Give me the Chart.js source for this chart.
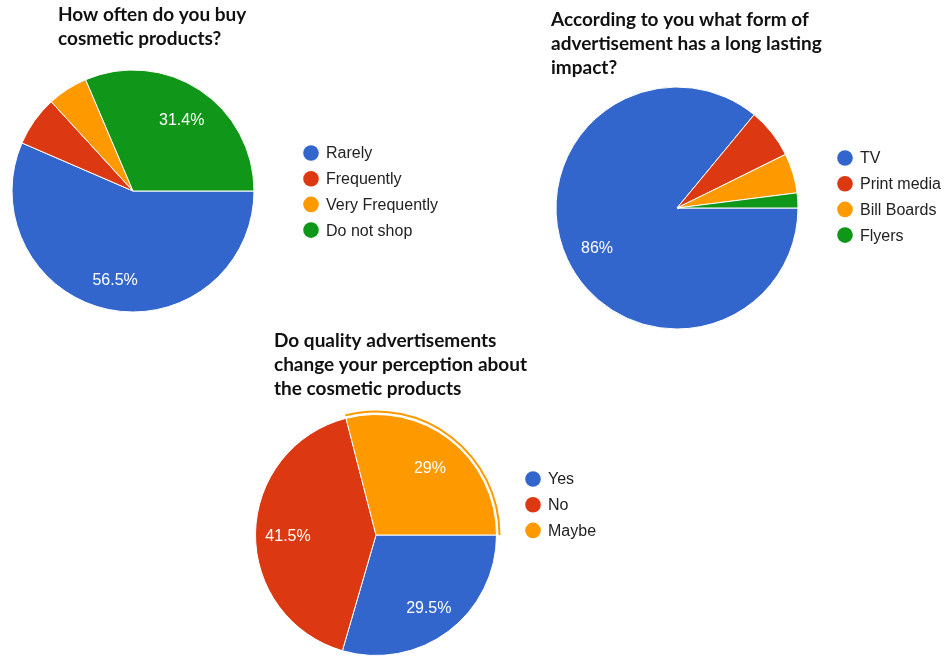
<!DOCTYPE html>
<html>
<head>
<meta charset="utf-8">
<title>Survey pie charts</title>
<script src="https://cdn.jsdelivr.net/npm/chart.js@4.4.0/dist/chart.umd.min.js"></script>
<style>
  body { margin: 0; background: #fff; }
  #wrap { position: relative; width: 950px; height: 658px; overflow: hidden; }
  #wrap canvas { position: absolute; left: 0; top: 0; }
</style>
</head>
<body>
<div id="wrap">
  <canvas id="buyChart" width="950" height="700"></canvas>
  <canvas id="adChart" width="950" height="700"></canvas>
  <canvas id="qualityChart" width="950" height="700"></canvas>
</div>
<script>
// data (percent of answers)
const buyTitle = ['How often do you buy', 'cosmetic products?'];
const buyLabels = ['Rarely', 'Frequently', 'Very Frequently', 'Do not shop'];
const buyValues = [56.5, 6.7, 5.4, 31.4];

const adTitle = ['According to you what form of', 'advertisement has a long lasting', 'impact?'];
const adLabels = ['TV', 'Print media', 'Bill Boards', 'Flyers'];
const adValues = [86, 6.7, 5.3, 2.0];

const qualityTitle = ['Do quality advertisements', 'change your perception about', 'the cosmetic products'];
const qualityLabels = ['Yes', 'No', 'Maybe'];
const qualityValues = [29.5, 41.5, 29];

const sliceColors = ['#3366cc', '#dc3912', '#ff9900', '#109618'];
const CANVAS_W = 950, CANVAS_H = 700;

// chart area so the pie of radius r sits at (cx, cy); +1 for the border spacing
function padFor(cx, cy, r) {
  const half = r + 0.5;
  return { left: cx - half, top: cy - half, right: CANVAS_W - (cx + half), bottom: CANVAS_H - (cy + half) };
}

function fmtPct(v) {
  return v + '%';
}

// title, in-slice percentages and legend, drawn on the chart canvas
const surveyDecor = {
  id: 'surveyDecor',
  afterDatasetsDraw(chart, args, opts) {
    const ctx = chart.ctx;
    const dsIndex = opts.dataset || 0;
    const ds = chart.data.datasets[dsIndex];
    const meta = chart.getDatasetMeta(dsIndex);
    ctx.save();

    ctx.fillStyle = '#fff';
    ctx.font = '16px "Liberation Sans", Arial, sans-serif';
    ctx.textAlign = 'center';
    ctx.textBaseline = 'middle';
    meta.data.forEach((arc, i) => {
      if (ds.data[i] < 10) return;
      const p = arc.getProps(['x', 'y', 'startAngle', 'endAngle', 'outerRadius'], true);
      const mid = (p.startAngle + p.endAngle) / 2;
      const d = p.outerRadius * 0.73;
      ctx.fillText(fmtPct(ds.data[i]), p.x + Math.cos(mid) * d, p.y + Math.sin(mid) * d + 3);
    });

    ctx.fillStyle = '#111';
    ctx.font = 'bold 19px Lato, sans-serif';
    ctx.textAlign = 'left';
    ctx.textBaseline = 'alphabetic';
    opts.title.forEach((line, i) => {
      ctx.fillText(line, opts.titleX, opts.titleY + i * 24);
    });

    ctx.font = '16px "Liberation Sans", Arial, sans-serif';
    ctx.textBaseline = 'middle';
    chart.data.labels.forEach((lab, i) => {
      const y = opts.legendY + i * 25.7;
      ctx.fillStyle = ds.backgroundColor[i];
      ctx.beginPath();
      ctx.arc(opts.legendX, y, 7.8, 0, Math.PI * 2);
      ctx.fill();
      ctx.fillStyle = '#222';
      ctx.fillText(lab, opts.legendX + 15, y + 1);
    });
    ctx.restore();
  }
};

const commonOptions = {
  responsive: false,
  animation: false,
  rotation: 90,
  plugins: { legend: { display: false }, tooltip: { enabled: false } }
};

function pieChart(id, labels, datasets, pad, decor) {
  return new Chart(document.getElementById(id), {
    type: 'pie',
    data: { labels: labels, datasets: datasets },
    options: {
      ...commonOptions,
      layout: { padding: pad },
      plugins: { ...commonOptions.plugins, surveyDecor: decor }
    },
    plugins: [surveyDecor]
  });
}

function mainSet(values, weight) {
  return {
    data: values,
    backgroundColor: sliceColors.slice(0, values.length),
    borderColor: '#fff',
    borderWidth: 1,
    hoverOffset: 0,
    weight: weight || 1
  };
}

pieChart('buyChart', buyLabels, [mainSet(buyValues)], padFor(133, 191, 121),
  { title: buyTitle, titleX: 58, titleY: 21, legendX: 311, legendY: 153 });

pieChart('adChart', adLabels, [mainSet(adValues)], padFor(677, 208, 121),
  { title: adTitle, titleX: 551, titleY: 26, legendX: 845, legendY: 158 });

// the third pie has a thin stray orange rim beside the Maybe slice
pieChart('qualityChart', qualityLabels, [
  {
    data: qualityValues,
    backgroundColor: ['rgba(0,0,0,0)', 'rgba(0,0,0,0)', '#ff9900'],
    borderWidth: 0, hoverOffset: 0, weight: 2
  },
  { data: qualityValues, backgroundColor: 'rgba(0,0,0,0)', borderWidth: 0, hoverOffset: 0, weight: 2 },
  mainSet(qualityValues, 120)
], padFor(376, 535, 124), { dataset: 2, title: qualityTitle, titleX: 274, titleY: 347, legendX: 533, legendY: 479 });
</script>
</body>
</html>
